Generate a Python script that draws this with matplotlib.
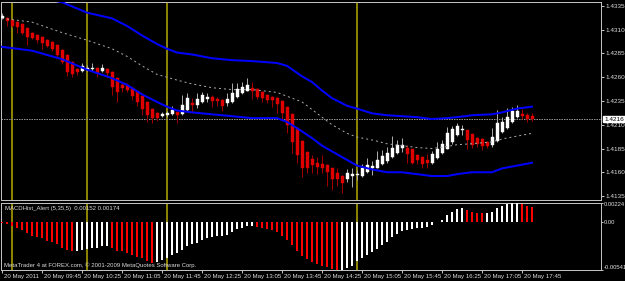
import matplotlib
matplotlib.use('Agg')
import matplotlib.pyplot as plt
import matplotlib.transforms as mtransforms
from matplotlib import font_manager as fm

# ---------------- data ----------------
opens = [1.4322, 1.4322, 1.4320, 1.4318, 1.4316, 1.4312, 1.4307, 1.4304, 1.4302, 1.4299,
         1.4297, 1.4294, 1.4289, 1.4283, 1.4276, 1.4269, 1.4267, 1.4268, 1.4269, 1.4270,
         1.4267, 1.4269, 1.4266, 1.4259, 1.4252, 1.4252, 1.4249, 1.4245, 1.4240, 1.4234,
         1.4227, 1.4222, 1.4219, 1.4220, 1.4221, 1.4223, 1.4221, 1.4226, 1.4233, 1.4231,
         1.4234, 1.4237, 1.4239, 1.4237, 1.4236, 1.4233, 1.4234, 1.4239, 1.4243, 1.4246,
         1.4249, 1.4248, 1.4244, 1.4241, 1.4239, 1.4238, 1.4235, 1.4229, 1.4221, 1.4207,
         1.4193, 1.4181, 1.4174, 1.4170, 1.4169, 1.4168, 1.4164, 1.4159, 1.4156, 1.4153,
         1.4156, 1.4157, 1.4156, 1.4160, 1.4164, 1.4165, 1.4169, 1.4172, 1.4176, 1.4180,
         1.4186, 1.4186, 1.4184, 1.4178, 1.4176, 1.4173, 1.4170, 1.4175, 1.4180, 1.4185,
         1.4192, 1.4199, 1.4204, 1.4204, 1.4200, 1.4196, 1.4195, 1.4192, 1.4189, 1.4193,
         1.4202, 1.4207, 1.4213, 1.4218, 1.4221, 1.4220, 1.4219]
highs = [1.4328, 1.4323, 1.4321, 1.4319, 1.4317, 1.4313, 1.4308, 1.4305, 1.4303, 1.4300,
         1.4298, 1.4295, 1.4290, 1.4284, 1.4277, 1.4270, 1.4275, 1.4273, 1.4275, 1.4271,
         1.4274, 1.4270, 1.4267, 1.4260, 1.4254, 1.4254, 1.4250, 1.4246, 1.4241, 1.4235,
         1.4228, 1.4223, 1.4223, 1.4225, 1.4230, 1.4224, 1.4241, 1.4243, 1.4238, 1.4243,
         1.4244, 1.4243, 1.4241, 1.4239, 1.4237, 1.4243, 1.4254, 1.4254, 1.4255, 1.4259,
         1.4255, 1.4249, 1.4245, 1.4242, 1.4240, 1.4239, 1.4236, 1.4230, 1.4222, 1.4208,
         1.4194, 1.4182, 1.4178, 1.4176, 1.4178, 1.4169, 1.4165, 1.4165, 1.4157, 1.4163,
         1.4165, 1.4162, 1.4169, 1.4175, 1.4172, 1.4182, 1.4183, 1.4187, 1.4198, 1.4194,
         1.4196, 1.4189, 1.4185, 1.4179, 1.4177, 1.4179, 1.4182, 1.4192, 1.4194, 1.4208,
         1.4209, 1.4212, 1.4210, 1.4205, 1.4201, 1.4197, 1.4196, 1.4193, 1.4207, 1.4226,
         1.4218, 1.4228, 1.4229, 1.4231, 1.4227, 1.4222, 1.4222]
lows = [1.4321, 1.4314, 1.4313, 1.4307, 1.4306, 1.4294, 1.4300, 1.4296, 1.4290, 1.4292,
        1.4288, 1.4281, 1.4274, 1.4261, 1.4260, 1.4262, 1.4266, 1.4267, 1.4267, 1.4260,
        1.4266, 1.4260, 1.4241, 1.4234, 1.4244, 1.4244, 1.4236, 1.4230, 1.4220, 1.4213,
        1.4212, 1.4214, 1.4218, 1.4218, 1.4220, 1.4212, 1.4220, 1.4225, 1.4222, 1.4228,
        1.4233, 1.4234, 1.4229, 1.4230, 1.4224, 1.4230, 1.4233, 1.4238, 1.4242, 1.4245,
        1.4237, 1.4237, 1.4234, 1.4233, 1.4229, 1.4222, 1.4215, 1.4201, 1.4180, 1.4170,
        1.4155, 1.4159, 1.4159, 1.4158, 1.4159, 1.4146, 1.4141, 1.4146, 1.4138, 1.4150,
        1.4144, 1.4152, 1.4155, 1.4159, 1.4157, 1.4164, 1.4168, 1.4170, 1.4175, 1.4179,
        1.4181, 1.4170, 1.4169, 1.4169, 1.4165, 1.4165, 1.4169, 1.4174, 1.4179, 1.4184,
        1.4190, 1.4198, 1.4199, 1.4185, 1.4186, 1.4187, 1.4183, 1.4186, 1.4187, 1.4192,
        1.4201, 1.4206, 1.4212, 1.4217, 1.4216, 1.4213, 1.4214]
closes = [1.4324, 1.4319, 1.4314, 1.4313, 1.4307, 1.4302, 1.4301, 1.4299, 1.4296, 1.4293,
          1.4290, 1.4283, 1.4276, 1.4266, 1.4263, 1.4265, 1.4272, 1.4270, 1.4270, 1.4264,
          1.4270, 1.4264, 1.4250, 1.4244, 1.4249, 1.4247, 1.4240, 1.4234, 1.4227, 1.4220,
          1.4217, 1.4217, 1.4221, 1.4222, 1.4226, 1.4220, 1.4231, 1.4238, 1.4231, 1.4237,
          1.4241, 1.4239, 1.4235, 1.4235, 1.4230, 1.4237, 1.4243, 1.4248, 1.4250, 1.4252,
          1.4245, 1.4239, 1.4238, 1.4236, 1.4236, 1.4232, 1.4222, 1.4210, 1.4192, 1.4178,
          1.4164, 1.4164, 1.4168, 1.4166, 1.4165, 1.4160, 1.4153, 1.4153, 1.4149, 1.4159,
          1.4158, 1.4158, 1.4165, 1.4168, 1.4167, 1.4173, 1.4177, 1.4180, 1.4186, 1.4189,
          1.4189, 1.4179, 1.4170, 1.4173, 1.4169, 1.4170, 1.4179, 1.4185, 1.4190, 1.4201,
          1.4206, 1.4209, 1.4206, 1.4194, 1.4189, 1.4190, 1.4188, 1.4188, 1.4197, 1.4212,
          1.4213, 1.4218, 1.4224, 1.4224, 1.4219, 1.4216, 1.4216]

macd = [-0.0001, -0.0002, -0.0004, -0.0007, -0.0009, -0.0012, -0.0015, -0.0017, -0.0018, -0.0021,
        -0.0022, -0.0025, -0.0029, -0.0031, -0.0033, -0.0032, -0.0031, -0.0030, -0.0029, -0.0029,
        -0.0027, -0.0027, -0.0029, -0.0032, -0.0033, -0.0035, -0.0037, -0.0039, -0.0041, -0.0044,
        -0.0046, -0.0045, -0.0043, -0.0040, -0.0037, -0.0035, -0.0031, -0.0027, -0.0025, -0.0023,
        -0.0020, -0.0018, -0.0017, -0.0016, -0.0016, -0.0014, -0.0011, -0.0008, -0.0006, -0.0004,
        -0.0004, -0.0005, -0.0006, -0.0008, -0.0009, -0.0011, -0.0015, -0.0020, -0.0026, -0.0032,
        -0.0038, -0.0042, -0.0045, -0.0047, -0.0049, -0.0051, -0.0053, -0.0054, -0.0054, -0.0052,
        -0.0049, -0.0044, -0.0041, -0.0037, -0.0034, -0.0030, -0.0026, -0.0022, -0.0017, -0.0013,
        -0.0010, -0.0009, -0.0008, -0.0007, -0.0006, -0.0005, -0.0003, 0.0000, 0.0003, 0.0008,
        0.0012, 0.0015, 0.0016, 0.0014, 0.0012, 0.0011, 0.0010, 0.0010, 0.0012, 0.0016,
        0.0019, 0.0021, 0.0022, 0.00224, 0.0021, 0.0019, 0.00174]

band_bars = [0, 6, 12, 17, 22, 25, 28, 31, 33, 35, 38, 42, 46, 50, 55, 57, 60, 62, 64, 66,
             69, 71, 74, 77, 80, 83, 86, 89, 91, 94, 98, 100, 103, 106]
upper_band = [1.4354, 1.4345, 1.4339, 1.4328, 1.4322, 1.4314, 1.4304, 1.4295, 1.4290, 1.4286,
              1.4284, 1.4280, 1.4278, 1.4277, 1.4275, 1.4272, 1.4261, 1.4255, 1.4246, 1.4238,
              1.4230, 1.4227, 1.4222, 1.4220, 1.4219, 1.4218, 1.4216, 1.4217, 1.4218, 1.4220,
              1.4221, 1.4223, 1.4227, 1.4229]
mid_band = [1.4322, 1.4318, 1.4307, 1.4299, 1.4290, 1.4282, 1.4272, 1.4263, 1.4260, 1.4257,
            1.4253, 1.4249, 1.4247, 1.4247, 1.4244, 1.4240, 1.4234, 1.4226, 1.4218, 1.4210,
            1.4201, 1.4197, 1.4194, 1.4190, 1.4188, 1.4186, 1.4185, 1.4187, 1.4189, 1.4190,
            1.4192, 1.4195, 1.4198, 1.4201]
lower_band = [1.4292, 1.4288, 1.4279, 1.4268, 1.4259, 1.4252, 1.4242, 1.4234, 1.4229, 1.4225,
              1.4223, 1.4221, 1.4219, 1.4217, 1.4217, 1.4213, 1.4203, 1.4196, 1.4188, 1.4182,
              1.4173, 1.4167, 1.4163, 1.4160, 1.4160, 1.4158, 1.4156, 1.4156, 1.4158, 1.4160,
              1.4160, 1.4164, 1.4167, 1.4170]

vline_bars = [2, 17, 33, 71]
time_tick_bars = [0, 8, 16, 24, 32, 40, 48, 56, 64, 72, 80, 88, 96, 104]
time_tick_labels = ['20 May 2011', '20 May 09:45', '20 May 10:25', '20 May 11:05',
                    '20 May 11:45', '20 May 12:25', '20 May 13:05', '20 May 13:45',
                    '20 May 14:25', '20 May 15:05', '20 May 15:45', '20 May 16:25',
                    '20 May 17:05', '20 May 17:45']
price_ticks = [1.4335, 1.4310, 1.4285, 1.4260, 1.4235, 1.4210, 1.4185, 1.4160, 1.4135]
current_price = 1.4216
macd_ticks = [0.00224, 0.0, -0.00541]
macd_tick_labels = ['0.00224', '0.00', '-0.00541']
macd_title = 'MACDHist_Alert (5,35,5)  0.00152 0.00174'
footer = 'MetaTrader 4 at FOREX.com, \u00a9 2001-2009 MetaQuotes Software Corp.'

# ---------------- style ----------------
W, H = 625, 281
PX = 0.72  # one pixel in points
_names = {f.name for f in fm.fontManager.ttflist}
if 'Liberation Sans Narrow' in _names:
    FONT, FS_Y, FS_M, FS_X, FS_T = 'Liberation Sans Narrow', 5.4, 5.0, 5.2, 5.0
else:
    FONT, FS_Y, FS_M, FS_X, FS_T = 'Liberation Sans', 4.6, 4.2, 4.4, 4.3
TXT = '#dcdcdc'
GRID = '#c0c0c0'

fig = plt.figure(figsize=(W / 100, H / 100), dpi=100, facecolor='black')


def px_axes(x0, y0, x1, y1):
    return fig.add_axes([x0 / W, 1 - y1 / H, (x1 - x0) / W, (y1 - y0) / H])


ax = px_axes(1, 2, 601, 200)
ax2 = px_axes(1, 202.5, 601, 270)

for a in (ax, ax2):
    a.set_facecolor('black')
    for s in a.spines.values():
        s.set_color(GRID)
        s.set_linewidth(PX)
    a.set_xlim(-0.2, 119.8)

n = len(opens)
xs = list(range(n))

# candles
for i in xs:
    o, h, l, c = opens[i], highs[i], lows[i], closes[i]
    up = c >= o
    wick_col = '#a8a8a8' if up else '#a00000'
    body_col = '#ffffff' if up else '#e00000'
    ax.vlines(i, l, h, color=wick_col, linewidth=PX, zorder=3)
    hgt = max(abs(c - o), 0.00008)
    ax.bar(i, hgt, bottom=min(o, c), width=0.6, color=body_col,
           edgecolor=body_col, linewidth=0.3, zorder=4)

ax.plot(band_bars, upper_band, color='#0000ff', lw=2 * PX, zorder=5)
ax.plot(band_bars, lower_band, color='#0000ff', lw=2 * PX, zorder=5)
ax.plot(band_bars, mid_band, color='#a8a8a8', lw=PX, ls=(0, (2, 3)), zorder=5)

ax.axhline(current_price, color='#909090', lw=PX, ls=(0, (1.5, 1)), zorder=2)

for vb in vline_bars:
    ax.axvline(vb, color='#8a8200', lw=2 * PX, zorder=1)
    ax2.axvline(vb, color='#8a8200', lw=2 * PX, zorder=1)

ax.set_ylim(1.413079, 1.433921)
ax.set_xticks([])
ax.yaxis.tick_right()
ax.set_yticks(price_ticks)
ax.set_yticklabels(['%.4f' % p for p in price_ticks])
ax.tick_params(axis='y', colors=GRID, length=3 * PX, width=PX, pad=1.2,
               labelsize=FS_Y, labelcolor=TXT)
for t in ax.get_yticklabels():
    t.set_fontfamily(FONT)

# current price label
trans = mtransforms.blended_transform_factory(ax.transAxes, ax.transData)
ax.text(1.0 + 3 / 600, current_price, '%.4f' % current_price, transform=trans,
        ha='left', va='center', fontsize=FS_Y, fontfamily=FONT, color='black',
        bbox=dict(boxstyle='square,pad=0.12', fc='white', ec='white'),
        clip_on=False, zorder=10)

# MACD panel
mcols = []
for i in xs:
    prev = macd[i - 1] if i > 0 else 0.0
    mcols.append('#ff0000' if macd[i] < prev else '#ffffff')
ax2.bar(xs, macd, width=0.4, color=mcols, linewidth=0, zorder=3)
ax2.set_ylim(-0.00541, 0.00224)
ax2.yaxis.tick_right()
ax2.set_yticks(macd_ticks)
ax2.set_yticklabels(macd_tick_labels)
ax2.tick_params(axis='y', colors=GRID, length=2 * PX, width=PX, pad=0.5,
                labelsize=FS_M, labelcolor=TXT)
ylabs = ax2.get_yticklabels()
ylabs[0].set_va('top')
ylabs[-1].set_va('bottom')
for t in ylabs:
    t.set_fontfamily(FONT)

ax2.set_xticks(time_tick_bars)
ax2.set_xticklabels(time_tick_labels)
ax2.tick_params(axis='x', colors=GRID, length=3 * PX, width=PX, pad=0.8,
                labelsize=FS_X, labelcolor=TXT)
off = mtransforms.ScaledTranslation(1.5 / 100, 0, fig.dpi_scale_trans)
for t in ax2.get_xticklabels():
    t.set_ha('left')
    t.set_fontfamily(FONT)
    t.set_transform(t.get_transform() + off)

fig.text(5 / W, 1 - 208.5 / H, macd_title, ha='left', va='center', fontsize=FS_T,
         fontfamily=FONT, color=TXT)
fig.text(4 / W, 1 - 265.5 / H, footer, ha='left', va='center', fontsize=FS_T,
         fontfamily=FONT, color=TXT)

fig.savefig('out.png', dpi=100, facecolor='black')
